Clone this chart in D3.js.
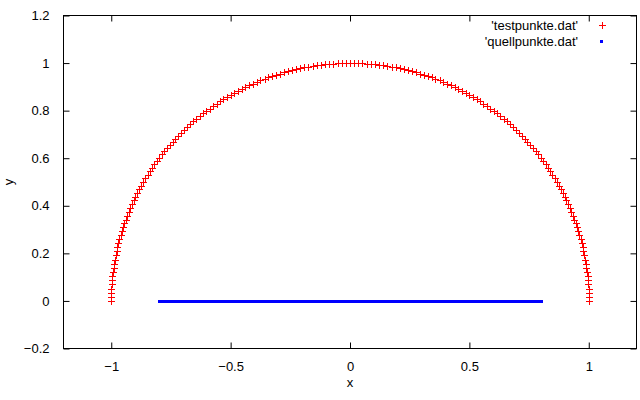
<!DOCTYPE html>
<html><head><meta charset="utf-8">
<script src="https://cdn.jsdelivr.net/npm/d3@7"></script>
<style>body{margin:0;background:#fff}svg{display:block}text{font-family:"Liberation Sans",Arial,sans-serif;font-size:13px;fill:#000}</style>
</head><body><svg id="c" width="640" height="400"></svg>
<script>
const xTicks = [-1, -0.5, 0, 0.5, 1];
const yTicks = [-0.2, 0, 0.2, 0.4, 0.6, 0.8, 1, 1.2];
const seriesNames = ["'testpunkte.dat'", "'quellpunkte.dat'"];
const testX = [1,1,.999,.999,.998,.996,.995,.993,.990,.988,.985,.982,.978,.974,.970,.966,.961,.956,.951,.946,.940,.934,.927,.921,.914,.906,.899,.891,.883,.875,.866,.857,.848,.839,.829,.819,.809,.799,.788,.777,.766,.755,.743,.731,.719,.707,.695,.682,.669,.656,.643,.629,.616,.602,.588,.574,.559,.545,.530,.515,.5,.485,.469,.454,.438,.423,.407,.391,.375,.358,.342,.326,.309,.292,.276,.259,.242,.225,.208,.191,.174,.156,.139,.122,.105,.087,.070,.052,.035,.017,0,
-.017,-.035,-.052,-.070,-.087,-.105,-.122,-.139,-.156,-.174,-.191,-.208,-.225,-.242,-.259,-.276,-.292,-.309,-.326,-.342,-.358,-.375,-.391,-.407,-.423,-.438,-.454,-.469,-.485,-.5,-.515,-.530,-.545,-.559,-.574,-.588,-.602,-.616,-.629,-.643,-.656,-.669,-.682,-.695,-.707,-.719,-.731,-.743,-.755,-.766,-.777,-.788,-.799,-.809,-.819,-.829,-.839,-.848,-.857,-.866,-.875,-.883,-.891,-.899,-.906,-.914,-.921,-.927,-.934,-.940,-.946,-.951,-.956,-.961,-.966,-.970,-.974,-.978,-.982,-.985,-.988,-.990,-.993,-.995,-.996,-.998,-.999,-.999,-1,-1];
const testY = [0,.017,.035,.052,.070,.087,.105,.122,.139,.156,.174,.191,.208,.225,.242,.259,.276,.292,.309,.326,.342,.358,.375,.391,.407,.423,.438,.454,.469,.485,.5,.515,.530,.545,.559,.574,.588,.602,.616,.629,.643,.656,.669,.682,.695,.707,.719,.731,.743,.755,.766,.777,.788,.799,.809,.819,.829,.839,.848,.857,.866,.875,.883,.891,.899,.906,.914,.921,.927,.934,.940,.946,.951,.956,.961,.966,.970,.974,.978,.982,.985,.988,.990,.993,.995,.996,.998,.999,.999,1,1,
1,.999,.999,.998,.996,.995,.993,.990,.988,.985,.982,.978,.974,.970,.966,.961,.956,.951,.946,.940,.934,.927,.921,.914,.906,.899,.891,.883,.875,.866,.857,.848,.839,.829,.819,.809,.799,.788,.777,.766,.755,.743,.731,.719,.707,.695,.682,.669,.656,.643,.629,.616,.602,.588,.574,.559,.545,.530,.515,.5,.485,.469,.454,.438,.423,.407,.391,.375,.358,.342,.326,.309,.292,.276,.259,.242,.225,.208,.191,.174,.156,.139,.122,.105,.087,.070,.052,.035,.017,0];
const quellX = [-.80,-.79,-.78,-.77,-.76,-.75,-.74,-.73,-.72,-.71,-.70,-.69,-.68,-.67,-.66,-.65,-.64,-.63,-.62,-.61,-.60,-.59,-.58,-.57,-.56,-.55,-.54,-.53,-.52,-.51,-.50,-.49,-.48,-.47,-.46,-.45,-.44,-.43,-.42,-.41,-.40,-.39,-.38,-.37,-.36,-.35,-.34,-.33,-.32,-.31,-.30,-.29,-.28,-.27,-.26,-.25,-.24,-.23,-.22,-.21,-.20,-.19,-.18,-.17,-.16,-.15,-.14,-.13,-.12,-.11,-.10,-.09,-.08,-.07,-.06,-.05,-.04,-.03,-.02,-.01,0,
.01,.02,.03,.04,.05,.06,.07,.08,.09,.10,.11,.12,.13,.14,.15,.16,.17,.18,.19,.20,.21,.22,.23,.24,.25,.26,.27,.28,.29,.30,.31,.32,.33,.34,.35,.36,.37,.38,.39,.40,.41,.42,.43,.44,.45,.46,.47,.48,.49,.50,.51,.52,.53,.54,.55,.56,.57,.58,.59,.60,.61,.62,.63,.64,.65,.66,.67,.68,.69,.70,.71,.72,.73,.74,.75,.76,.77,.78,.79,.80];
const quellY = quellX.map(() => 0);

const svg = d3.select("#c");
const L = 63.5, R = 636.5, T = 15.5, B = 348.5;
const x = d3.scaleLinear().domain([-1.2, 1.2]).range([L, R]);
const y = d3.scaleLinear().domain([-0.2, 1.2]).range([B, T]);
const tl = 6;
const FONT = "Liberation Sans, Arial, sans-serif";

svg.append("g").attr("transform", `translate(0,${B})`)
  .call(d3.axisBottom(x).tickValues(xTicks).tickSizeInner(-tl).tickSizeOuter(0).tickPadding(13).tickFormat(d3.format("")))
  .call(g => { g.select(".domain").remove(); g.selectAll("line").attr("stroke", "#000"); g.selectAll("text").attr("font-size", 13).attr("font-family", FONT); });
svg.append("g").attr("transform", `translate(0,${T})`)
  .call(d3.axisTop(x).tickValues(xTicks).tickSizeInner(-tl).tickSizeOuter(0).tickFormat(""))
  .call(g => { g.select(".domain").remove(); g.selectAll("line").attr("stroke", "#000"); });
svg.append("g").attr("transform", `translate(${L},0)`)
  .call(d3.axisLeft(y).tickValues(yTicks).tickSizeInner(-tl).tickSizeOuter(0).tickPadding(14).tickFormat(d3.format("")))
  .call(g => { g.select(".domain").remove(); g.selectAll("line").attr("stroke", "#000"); g.selectAll("text").attr("font-size", 13).attr("font-family", FONT); });
svg.append("g").attr("transform", `translate(${R},0)`)
  .call(d3.axisRight(y).tickValues(yTicks).tickSizeInner(-tl).tickSizeOuter(0).tickFormat(""))
  .call(g => { g.select(".domain").remove(); g.selectAll("line").attr("stroke", "#000"); });

svg.append("rect").attr("x", L).attr("y", T).attr("width", R - L).attr("height", B - T)
  .attr("fill", "none").attr("stroke", "#000").attr("stroke-width", 1);

svg.append("text").attr("x", (L + R) / 2).attr("y", 387).attr("text-anchor", "middle").text("x");
svg.append("text").attr("transform", `translate(13,${(T + B) / 2}) rotate(-90)`).attr("text-anchor", "middle").text("y");

const cs = 3.5;
const crossPath = (cx, cy) => `M${cx - cs},${cy}H${cx + cs}M${cx},${cy - cs}V${cy + cs}`;

svg.append("g").attr("shape-rendering", "crispEdges").selectAll("rect").data(quellX.map((d, i) => [d, quellY[i]])).join("rect")
  .attr("x", d => Math.round(x(d[0])) - 1).attr("y", d => Math.round(y(d[1])) - 1).attr("width", 3).attr("height", 3).attr("fill", "#0000ff");

svg.append("path")
  .attr("d", testX.map((d, i) => crossPath(Math.round(x(d)) + 0.5, Math.round(y(testY[i])) + 0.5)).join(""))
  .attr("stroke", "#ff0000").attr("stroke-width", 1).attr("fill", "none");

const lg = svg.append("g");
lg.append("text").attr("x", 578).attr("y", 30).attr("text-anchor", "end").text(seriesNames[0]);
lg.append("text").attr("x", 578).attr("y", 46).attr("text-anchor", "end").text(seriesNames[1]);
lg.append("path").attr("d", crossPath(602.5, 25.5)).attr("stroke", "#ff0000").attr("fill", "none");
lg.append("rect").attr("x", 600).attr("y", 40).attr("width", 3).attr("height", 3).attr("fill", "#0000ff");
</script></body></html>
